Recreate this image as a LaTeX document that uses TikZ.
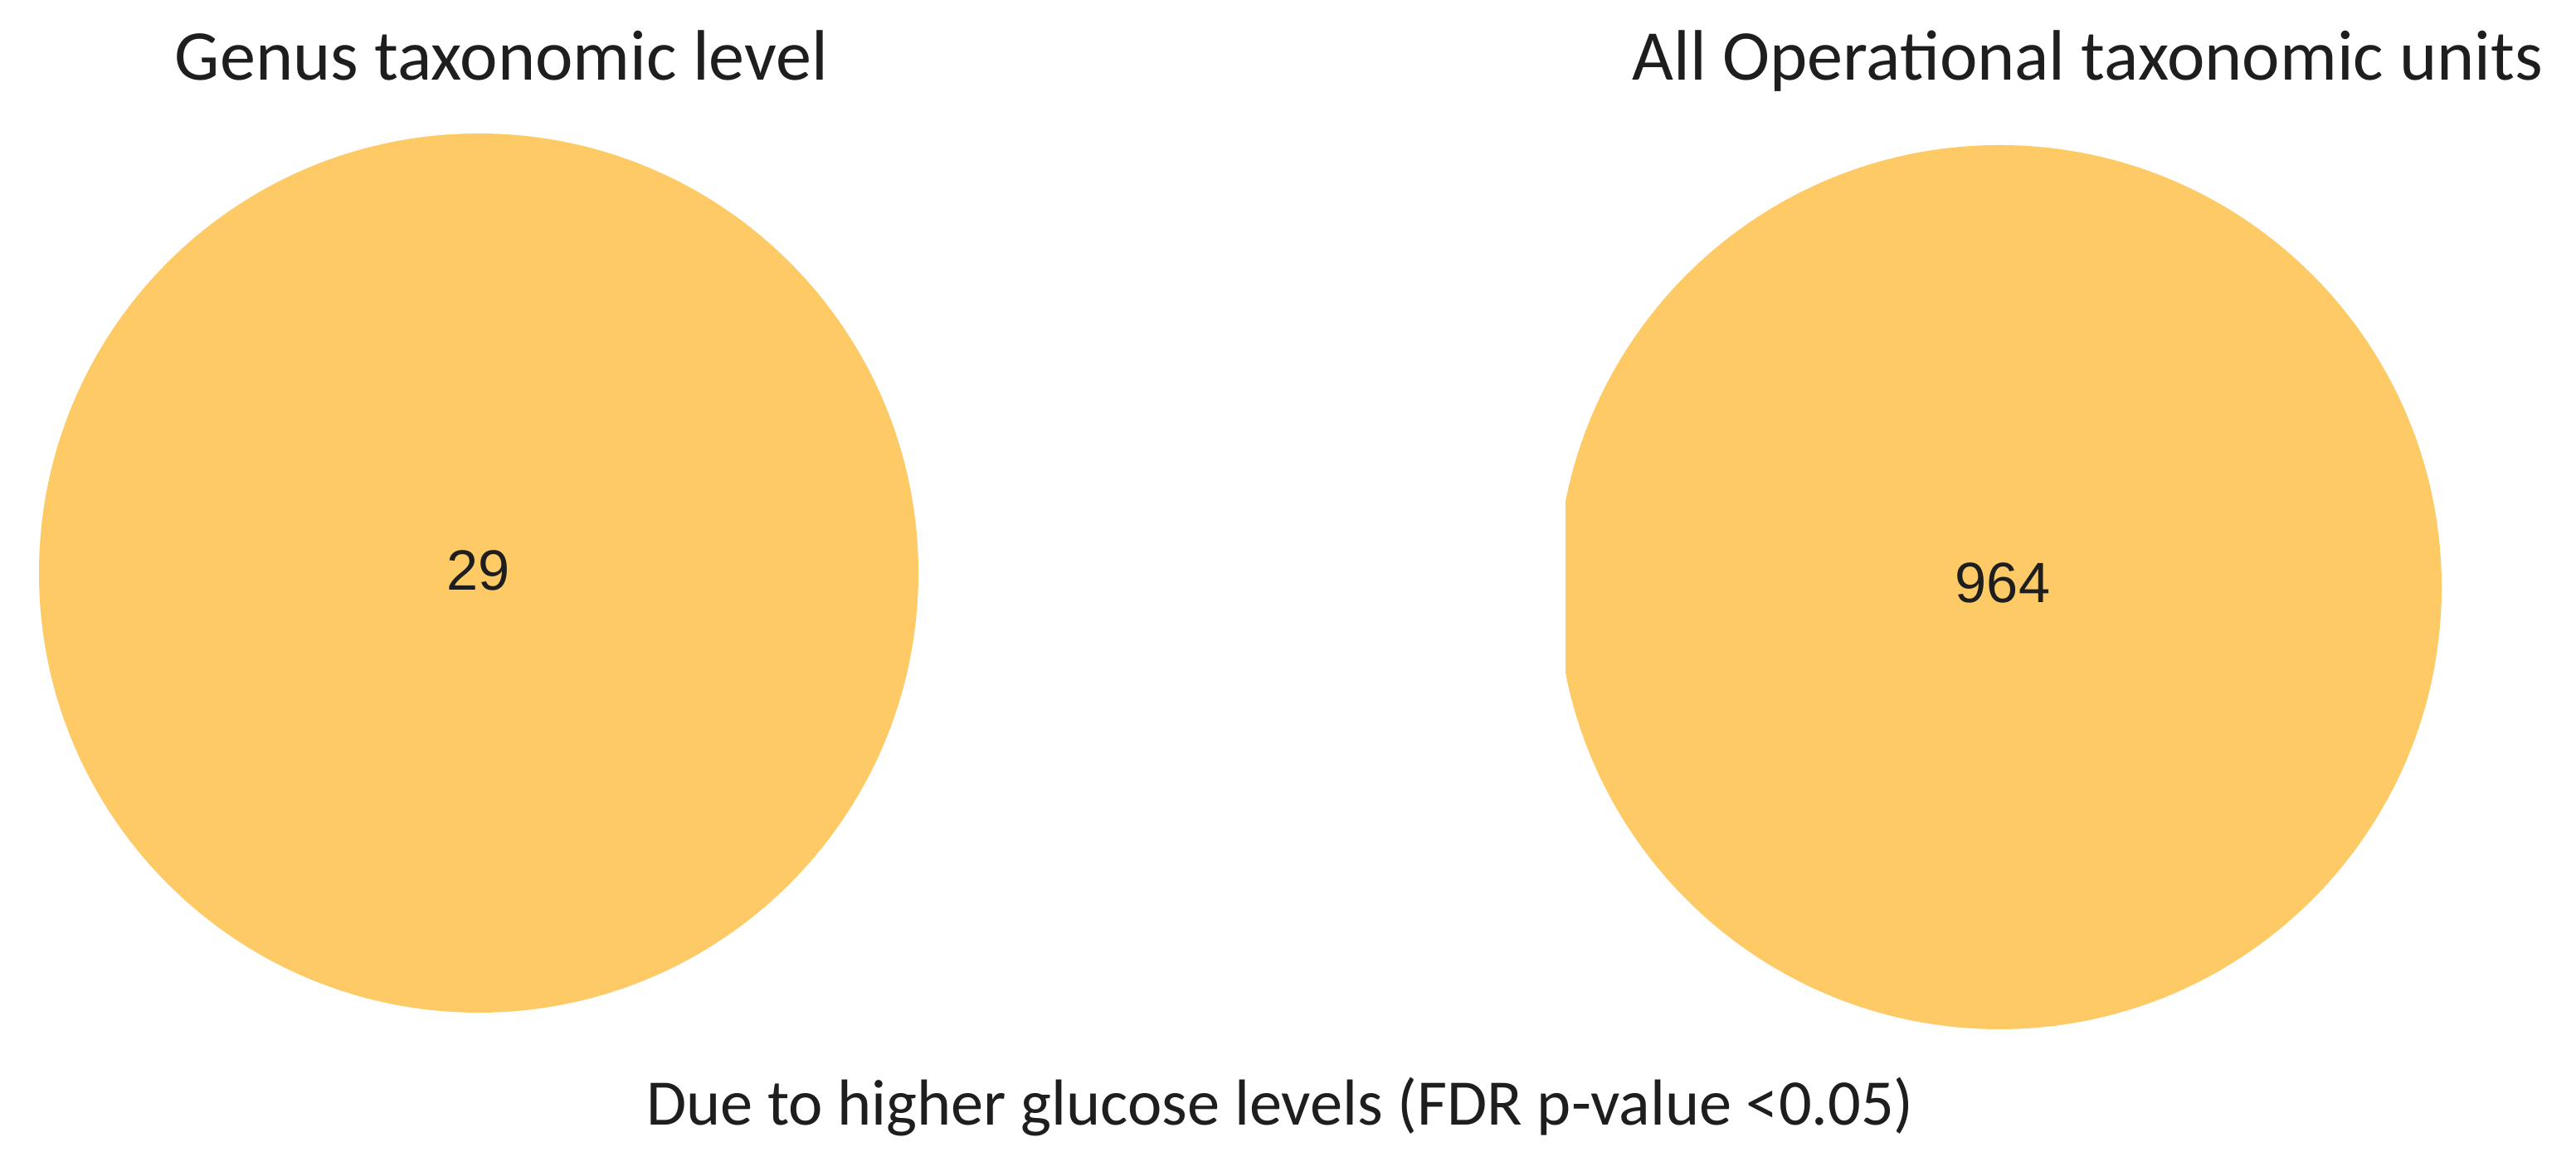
\documentclass[tikz,border=0pt]{standalone}
\usepackage{fontspec}
\setmainfont{Carlito}
\newfontfamily\numfont{Liberation Sans}
\definecolor{vennfill}{HTML}{FECA66}
\definecolor{inktext}{HTML}{1E1E1E}
\begin{document}
\begin{tikzpicture}[x=1cm,y=1cm,
  setcircle/.style={circle, fill=vennfill, draw=none, inner sep=0pt},
  titletext/.style={anchor=base, inner sep=0pt, text=inktext, font=\fontsize{24.5}{29}\selectfont},
  foottext/.style={anchor=base, inner sep=0pt, text=inktext, font=\fontsize{22.3}{27}\selectfont},
  counttext/.style={inner sep=0pt, text=inktext, font=\numfont\fontsize{19.5}{23}\selectfont}]
\useasboundingbox[fill=white] (0,0) rectangle (31.05,14.18);
\node[setcircle, minimum size=10.60cm] (genus) at (5.77,7.27) {};
\begin{scope}
\clip (18.87,0) rectangle (31.05,14.18);
\node[setcircle, minimum size=10.66cm] (otu) at (24.10,7.10) {};
\end{scope}
\node[counttext] (n29) at (5.77,7.30) {29};
\node[counttext] (n964) at (24.14,7.15) {964};
\node[titletext] (tgenus) at (6.045,13.21) {Genus taxonomic level};
\node[titletext] (totu) at (25.165,13.21) {All Operational taxonomic units};
\node[foottext] (tfoot) at (15.43,0.61) {Due to higher glucose levels (FDR p-value <0.05)};
\end{tikzpicture}
\end{document}
